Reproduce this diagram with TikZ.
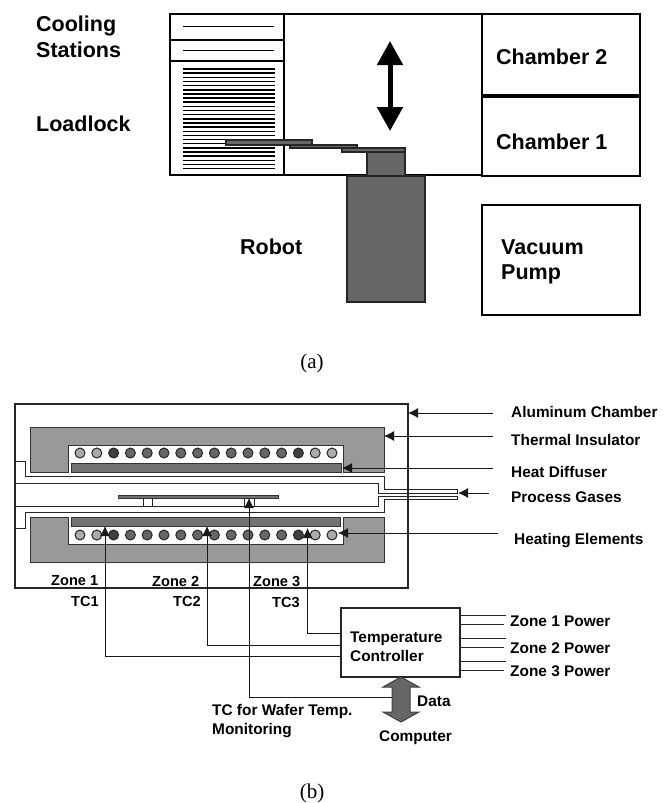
\documentclass[tikz,border=0pt]{standalone}
\usepackage{fontspec}
\setmainfont{Liberation Serif}
\setsansfont{Liberation Sans}
\usetikzlibrary{arrows.meta}

\tikzset{
	biglabel/.style={font=\sffamily\bfseries\fontsize{21.5}{25.5}\selectfont, align=left, anchor=west, inner sep=0pt},
	smalllabel/.style={font=\sffamily\bfseries\fontsize{15.4}{19}\selectfont, align=left, anchor=west, inner sep=0pt},
	zonelabel/.style={font=\sffamily\bfseries\fontsize{14.6}{17}\selectfont, anchor=west, inner sep=0pt},
	caption/.style={font=\fontsize{21}{24}\selectfont, inner sep=0pt},
	box/.style={draw=black, line width=1.4pt, outer sep=0pt},
	solidpart/.style={draw=black!85, fill=black!60, line width=1.1pt, outer sep=0pt},
	insul/.style={draw=black!80, fill=black!40, line width=0.9pt},
	diffuser/.style={draw=black!80, fill=black!55, line width=0.9pt},
	coil/.style={circle, draw=black!85, line width=1pt, minimum size=10pt, inner sep=0pt},
	wire/.style={draw=black!85, line width=0.9pt},
	pointer/.style={-{Latex[length=10pt,width=10pt]}, black!90, line width=0.9pt}
}

\begin{document}
\begin{tikzpicture}[x=1pt, y=-1pt]
	\useasboundingbox (0,0) rectangle (664,803);

	% part (a)
	\node[box, minimum width=114pt, minimum height=161pt, anchor=north west, inner sep=0pt] (loadlock) at (170,14) {};
	\node[box, minimum width=198pt, minimum height=161pt, anchor=north west, inner sep=0pt] (transfer) at (284,14) {};
	\node[box, minimum width=158pt, minimum height=81pt, anchor=north west, inner sep=0pt] (chambertwo) at (482,14) {};
	\node[box, minimum width=158pt, minimum height=79pt, anchor=north west, inner sep=0pt] (chamberone) at (482,97) {};
	\node[box, minimum width=158pt, minimum height=110pt, anchor=north west, inner sep=0pt] (pump) at (482,205) {};
	\draw[line width=1.4pt] (170,40) -- (284,40);
	\draw[line width=2.4pt] (170,61) -- (284,61);
	\draw[line width=1pt] (183,26) -- (274,26);
	\draw[line width=1pt] (183,50) -- (274,50);
	\foreach \y in {0,...,24}
		\draw[line width=1.5pt] (183,{69+4.15*\y}) -- (275,{69+4.15*\y});

	\node[solidpart, minimum width=78pt, minimum height=126pt, anchor=north west, inner sep=0pt] (robot) at (347,176) {};
	\node[solidpart, minimum width=38pt, minimum height=24pt, anchor=north west, inner sep=0pt] (robothead) at (367,152) {};
	\draw[solidpart] (342,148) rectangle (405,152);
	\draw[solidpart] (290,145) rectangle (357,148);
	\draw[solidpart] (226,140) rectangle (312,145);
	\coordinate (liftup) at (390,41);
	\coordinate (liftdown) at (390,131);
	\draw[{Triangle[length=24pt,width=25pt]}-{Triangle[length=24pt,width=25pt]}, line width=5pt] (liftup) -- (liftdown);

	\node[biglabel] (coolinglabel) at (36,37) {Cooling\\Stations};
	\node[biglabel] (loadlocklabel) at (36,124) {Loadlock};
	\node[biglabel] (robotlabel) at (240,247) {Robot};
	\node[biglabel] (twolabel) at (496,57) {Chamber 2};
	\node[biglabel] (onelabel) at (496,142) {Chamber 1};
	\node[biglabel] (pumplabel) at (501,262) {Vacuum\\Pump};
	\node[caption] (capa) at (312,363) {(a)};

	% part (b)
	\node[draw=black!85, line width=1.1pt, outer sep=0pt, minimum width=393pt, minimum height=184pt, anchor=north west, inner sep=0pt] (chamber) at (15,404) {};
	\draw[insul] (30,427) -- (384,427) -- (384,472) -- (343,472) -- (343,445) -- (68,445) -- (68,472) -- (30,472) -- cycle;
	\draw[insul] (30,517) -- (68,517) -- (68,544) -- (343,544) -- (343,517) -- (384,517) -- (384,562) -- (30,562) -- cycle;
	\draw[diffuser] (71,463) rectangle (341,472);
	\draw[diffuser] (71,517) rectangle (340,526);

	\foreach \i/\shade in {0/33,1/33,2/75,3/60,4/60,5/60,6/60,7/60,8/60,9/60,10/60,11/60,12/60,13/75,14/33,15/33} {
		\node[coil, fill=black!\shade] (top\i) at ({80+16.8*\i},453) {};
		\node[coil, fill=black!\shade] (bot\i) at ({80+16.8*\i},535) {};
	}

	\draw[wire] (15,461) -- (25,461) -- (25,476) -- (384,476) -- (384,489) -- (457,489) -- (457,493) -- (378,493) -- (378,483) -- (15,483);
	\draw[wire] (15,506) -- (378,506) -- (378,496) -- (457,496) -- (457,499) -- (384,499) -- (384,512) -- (25,512) -- (25,528) -- (15,528);
	\draw[wire] (143,498) -- (143,506);
	\draw[wire] (152,498) -- (152,506);
	\draw[wire] (244,498) -- (244,506);
	\draw[wire] (254,498) -- (254,506);
	\draw[diffuser] (118,495) rectangle (278,498);

	\node[draw=black!85, line width=1.1pt, outer sep=0pt, fill=white, minimum width=119pt, minimum height=69pt, anchor=north west, inner sep=0pt] (controller) at (341,608) {};
	\node[smalllabel] (controllerlabel) at (350,647) {Temperature\\Controller};
	\draw[draw=black!75, fill=black!60, line width=1pt] (401,677) -- (419,687) -- (410,687) -- (410,712) -- (419,712) -- (401,722) -- (383,712) -- (392,712) -- (392,687) -- (383,687) -- cycle;

	\coordinate (tcone) at (105,526);
	\coordinate (tctwo) at (207,526);
	\coordinate (tcthree) at (307.5,528);
	\coordinate (tcwafer) at (249,498);
	\draw[pointer] (controller.west |- 0,656) -| (tcone);
	\draw[pointer] (controller.west |- 0,645) -| (tctwo);
	\draw[pointer] (controller.west |- 0,633) -| (tcthree);
	\draw[pointer] (392,697) -| (tcwafer);

	\node[zonelabel] (zoneone) at (51,581) {Zone 1};
	\node[zonelabel] (zonetwo) at (152,581) {Zone 2};
	\node[zonelabel] (zonethree) at (253,581) {Zone 3};
	\node[zonelabel] (tclone) at (71,601) {TC1};
	\node[zonelabel] (tcltwo) at (173,601) {TC2};
	\node[zonelabel] (tclthree) at (272,602) {TC3};

	\coordinate (alumtail) at (493,413);
	\coordinate (insultail) at (493,436);
	\coordinate (difftail) at (493,468);
	\coordinate (gastail) at (489,493);
	\coordinate (heattail) at (498,533);
	\draw[pointer] (alumtail) -- (408,413);
	\draw[pointer] (insultail) -- (384,436);
	\draw[pointer] (difftail) -- (342,468);
	\draw[pointer] (gastail) -- (458,493);
	\draw[pointer] (heattail) -- (338,533);
	\node[smalllabel] (alumlabel) at (511,412) {Aluminum Chamber};
	\node[smalllabel] (insullabel) at (511,440) {Thermal Insulator};
	\node[smalllabel] (difflabel) at (511,472) {Heat Diffuser};
	\node[smalllabel] (gaslabel) at (511,497) {Process Gases};
	\node[smalllabel] (heatlabel) at (514,541) {Heating Elements};

	\draw[wire] (controller.east |- 0,615) -- (506,615);
	\draw[wire] (controller.east |- 0,624) -- (504,624);
	\draw[wire] (controller.east |- 0,638) -- (506,638);
	\draw[wire] (controller.east |- 0,647) -- (504,647);
	\draw[wire] (controller.east |- 0,661) -- (506,661);
	\draw[wire] (controller.east |- 0,670) -- (504,670);
	\node[smalllabel] (powerone) at (510,621) {Zone 1 Power};
	\node[smalllabel] (powertwo) at (510,648) {Zone 2 Power};
	\node[smalllabel] (powerthree) at (510,671) {Zone 3 Power};

	\node[smalllabel] (datalabel) at (417,701) {Data};
	\node[smalllabel] (computerlabel) at (379,738) {Computer};
	\node[smalllabel] (waferlabel) at (212,721) {TC for Wafer Temp.\\Monitoring};
	\node[caption] (capb) at (312,793) {(b)};
\end{tikzpicture}
\end{document}
